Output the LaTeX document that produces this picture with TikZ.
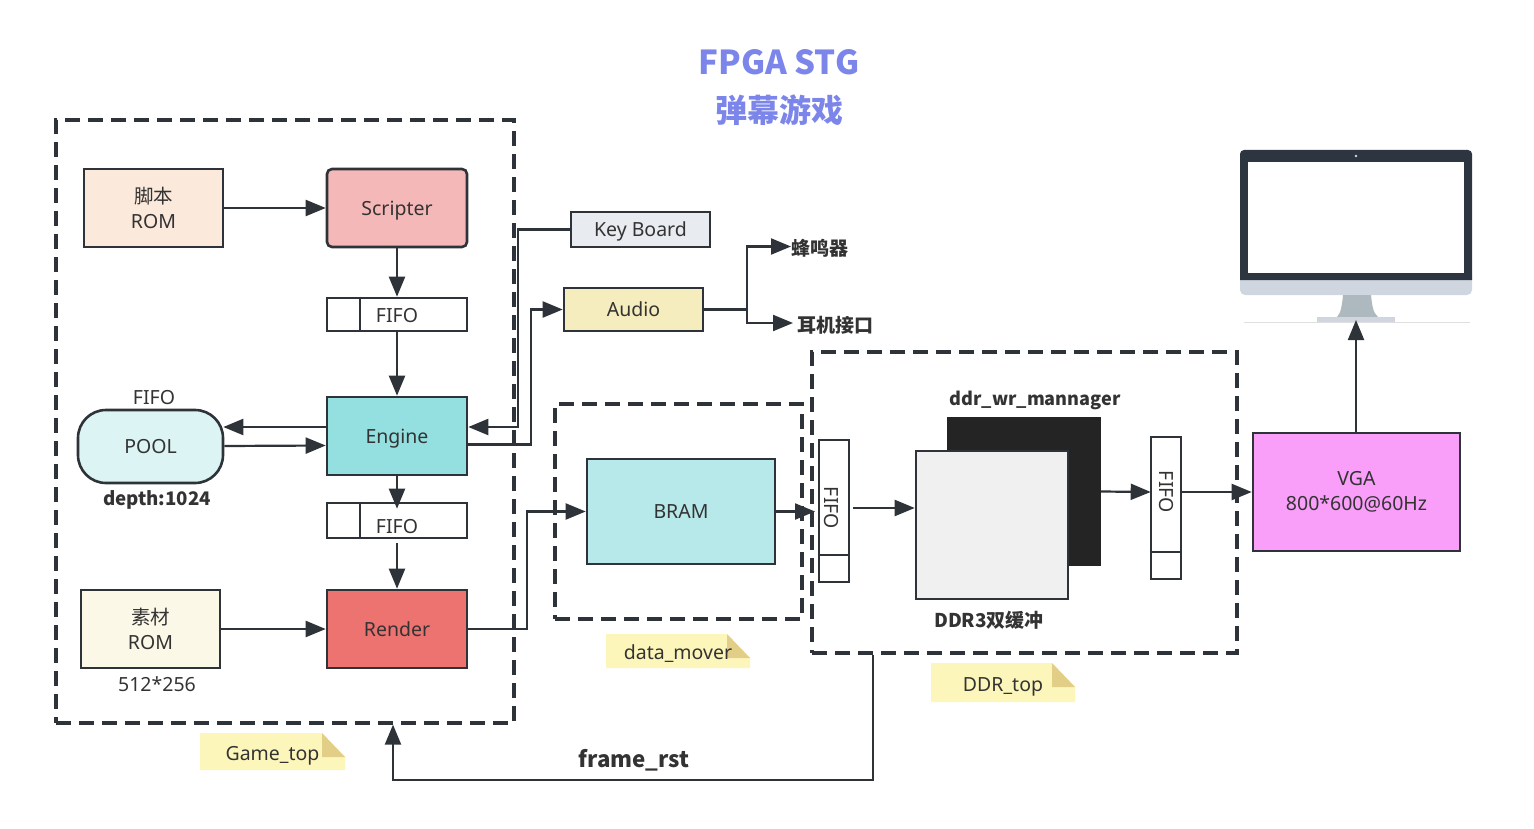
\documentclass[tikz,border=0pt]{standalone}
\usepackage{fontspec}
\usepackage{xcolor}
\setmainfont{Noto Sans}
\newfontfamily\cjk{Noto Sans CJK SC}
\usetikzlibrary{arrows.meta,positioning}
\definecolor{linegray}{HTML}{2D3338}
\definecolor{textgray}{HTML}{333333}
\definecolor{titleblue}{HTML}{7C86EA}
\definecolor{notefill}{HTML}{FDF6BA}
\definecolor{notefold}{HTML}{E2CE87}
\definecolor{scriptfill}{HTML}{FBE9DB}
\definecolor{scripterfill}{HTML}{F5B8B8}
\definecolor{enginefill}{HTML}{94E0E0}
\definecolor{poolfill}{HTML}{DCF4F4}
\definecolor{renderfill}{HTML}{EC7370}
\definecolor{assetfill}{HTML}{FCF8E8}
\definecolor{keyfill}{HTML}{E8EBEF}
\definecolor{audiofill}{HTML}{F5EDBD}
\definecolor{bramfill}{HTML}{B8E9EA}
\definecolor{vgafill}{HTML}{F99EF9}
\definecolor{monitordark}{HTML}{2D3540}
\definecolor{screengray}{HTML}{CFD6DF}
\definecolor{standgray}{HTML}{AEB8BF}
\tikzset{
	block/.style={draw=linegray, line width=2.6pt, inner sep=0pt, align=center, text=textgray,
		font=\fontsize{19.5}{25}\selectfont},
	single/.style={block, text height=14pt, text depth=0pt},
	dashframe/.style={draw=linegray, line width=3.2pt, dash pattern=on 15pt off 8pt, inner sep=0pt},
	conn/.style={draw=linegray, line width=2.2pt, -{Triangle[length=20pt,width=16pt]}},
	wire/.style={draw=linegray, line width=2.2pt},
	txt/.style={text=textgray, inner sep=0pt, text height=14pt, text depth=0pt, font=\fontsize{19.5}{25}\selectfont},
	boldtxt/.style={text=textgray, inner sep=0pt, text height=14pt, text depth=0pt, font=\fontsize{18.7}{24}\selectfont\bfseries\cjk},
}
\newcommand{\notebox}[6]{%
	\fill[notefill] (#1,#2) -- (#3-23,#2) -- (#3,#2+24) -- (#3,#4) -- (#1,#4) -- cycle;
	\fill[notefold] (#3-23,#2) -- (#3,#2+24) -- (#3-23,#2+24) -- cycle;
	\node[txt] (#5) at ({(#1+#3)/2},{(#2+#4)/2+1.5}) {#6};
}

\begin{document}
\begin{tikzpicture}[x=1pt, y=-1pt]
	\useasboundingbox (0,0) rectangle (1534,829);

	% title
	\node[text=titleblue, font=\fontsize{33}{38}\selectfont\bfseries\cjk] (titlea) at (779,62) {FPGA STG};
	\node[text=titleblue, font=\fontsize{32}{38}\selectfont\bfseries\cjk] (titleb) at (779,110) {弹幕游戏};

	% dashed frames
	\node[dashframe, minimum width=458pt, minimum height=603pt] (gametop) at (285,421.5) {};
	\node[dashframe, minimum width=247pt, minimum height=215pt] (datamover) at (678.5,511.5) {};
	\node[dashframe, minimum width=425pt, minimum height=301pt] (ddrtop) at (1024.5,502.5) {};

	\notebox{200}{733}{345}{770}{notegame}{Game\_top}
	\notebox{606}{634}{750}{668}{notedata}{data\_mover}
	\notebox{931}{663}{1075}{702}{noteddr}{DDR\_top}

	% game_top
	\node[block, fill=scriptfill, minimum width=139pt, minimum height=78pt] (script) at (153.5,208) {{\cjk 脚本}\\ROM};
	\node[single, fill=scripterfill, rounded corners=5pt, minimum width=140pt, minimum height=78pt] (scripter) at (397,208) {Scripter};
	\node[block, minimum width=140pt, minimum height=33pt] (fifoa) at (397,314.5) {};
	\node[single, fill=enginefill, minimum width=140pt, minimum height=78pt] (engine) at (397,436) {Engine};
	\node[single, fill=poolfill, rounded corners=28pt, minimum width=145pt, minimum height=73pt] (pool) at (150.5,446.5) {POOL};
	\node[block, minimum width=140pt, minimum height=35pt] (fifob) at (397,520.5) {};
	\node[single, fill=renderfill, minimum width=140pt, minimum height=78pt] (render) at (397,629) {Render};
	\node[block, fill=assetfill, minimum width=139pt, minimum height=78pt] (asset) at (150.5,629) {{\cjk 素材}\\ROM};

	\node[txt] (fifoatext) at (397,315) {FIFO};
	\node[txt] (fifobtext) at (397,526) {FIFO};
	\node[txt] (pooltop) at (154,397) {FIFO};
	\node[boldtxt] (pooldepth) at (157,498) {depth:1024};
	\node[txt] (assetsize) at (157,684) {512*256};
	\foreach \fifo in {fifoa,fifob}{
		\draw[wire] ([xshift=34pt]\fifo.north west) -- ([xshift=34pt]\fifo.south west);
	}

	% audio and keys
	\node[single, fill=keyfill, minimum width=139pt, minimum height=35pt] (keyboard) at (640.5,229.5) {Key Board};
	\node[single, fill=audiofill, minimum width=139pt, minimum height=43pt] (audio) at (633.5,309.5) {Audio};
	\node[boldtxt, anchor=west, font=\fontsize{19}{24}\selectfont\bfseries\cjk] (buzzer) at (791,248) {蜂鸣器};
	\node[boldtxt, anchor=west, font=\fontsize{19}{24}\selectfont\bfseries\cjk] (jack) at (797,325) {耳机接口};

	% data_mover
	\node[single, fill=bramfill, minimum width=188pt, minimum height=105pt] (bram) at (681,511.5) {BRAM};

	% ddr_top
	\node[fill=black!86, inner sep=0pt, minimum width=154pt, minimum height=149pt] (ddrback) at (1024,491.5) {};
	\node[block, fill=black!6, minimum width=152pt, minimum height=148pt] (ddrfront) at (992,525) {};
	\node[boldtxt, font=\fontsize{18.1}{24}\selectfont\bfseries\cjk] (ddrname) at (1035,398) {ddr\_wr\_mannager};
	\node[boldtxt, font=\fontsize{19}{24}\selectfont\bfseries\cjk] (ddrbuf) at (989,620) {DDR3双缓冲};
	\node[block, minimum width=30pt, minimum height=142pt] (fifoc) at (834,511) {};
	\node[block, minimum width=30pt, minimum height=142pt] (fifod) at (1166,508) {};
	\node[txt, rotate=-90] (fifoctext) at (831,508) {FIFO};
	\node[txt, rotate=-90] (fifodtext) at (1166,492) {FIFO};
	\foreach \fifo in {fifoc,fifod}{
		\draw[wire] ([yshift=28pt]\fifo.south west) -- ([yshift=28pt]\fifo.south east);
	}

	% vga and monitor
	\node[block, fill=vgafill, minimum width=207pt, minimum height=118pt] (vga) at (1356.5,492) {VGA\\800*600@60Hz};
	\fill[screengray, rounded corners=5pt] (1240,270) rectangle (1472,295);
	\fill[standgray] (1343,295) -- (1371,295) .. controls (1372,305) and (1373,313) .. (1378,317) -- (1337,317) .. controls (1341,313) and (1342,305) .. (1343,295) -- cycle;
	\fill[screengray] (1317,317) rectangle (1395,323);
	\draw[black!12, line width=0.8pt] (1244,322.5) -- (1470,322.5);
	\fill[monitordark, rounded corners=4pt] (1240,280) [sharp corners] -- (1240,280) [rounded corners=4pt] -- (1240,150) -- (1472,150) [sharp corners] -- (1472,280) -- cycle;
	\fill[white] (1248,162) rectangle (1464,273);
	\fill[black!15] (1356,156) circle (1.3pt);
	\coordinate (monitor) at (1356,320);

	% connectors
	\draw[conn] (script) -- (scripter);
	\draw[conn] (scripter) -- (fifoa);
	\draw[conn] (fifoa) -- (engine);
	\draw[conn] ([yshift=9pt]engine.west) -- ([xshift=-1pt,yshift=19.5pt]pool.east);
	\draw[conn] ([yshift=0.5pt]pool.east) -- ([yshift=-9.5pt]engine.west);
	\draw[conn] (engine.south) -- ([yshift=-7pt]fifob.north);
	\draw[conn] ([yshift=-4pt]fifob.south) -- (render.north);
	\draw[conn] (asset) -- (render);

	\coordinate (keybend) at (518,427);
	\coordinate (audiobend) at (531,444.5);
	\coordinate (splitaudio) at (747,309.5);
	\draw[conn] (keyboard.west) -| (keybend) -- ([yshift=9pt]engine.east);
	\draw[conn] ([yshift=-8.5pt]engine.east) -- (audiobend) |- (audio.west);
	\draw[wire] (audio.east) -- (splitaudio);
	\draw[conn] (splitaudio) |- ([yshift=1.5pt]buzzer.west);
	\draw[conn] (splitaudio) |- ([xshift=-4pt,yshift=2pt]jack.west);

	\coordinate (renderbend) at (527,629);
	\draw[conn] (render.east) -- (renderbend) |- (bram.west);
	\coordinate (fifocin) at (815,511.5);
	\draw[conn] (bram.east) -- (fifocin);
	\coordinate (fifocout) at (853,508);
	\draw[conn] (fifocout) -- (ddrfront.west |- fifocout);
	\draw[conn] (ddrback.east) -- ([xshift=1pt,yshift=16pt]fifod.west);
	\draw[conn] ([yshift=16pt]fifod.east) -- (vga.west);
	\draw[conn] (vga.north -| monitor) -- (monitor);

	\coordinate (rstright) at (873,780);
	\coordinate (rstleft) at (393,780);
	\draw[conn] ([xshift=-151.5pt]ddrtop.south) -- (rstright) -- (rstleft) -- ([xshift=108pt]gametop.south);
	\node[boldtxt, font=\fontsize{22.3}{28}\selectfont\bfseries\cjk] (rstlabel) at (634,760) {frame\_rst};
\end{tikzpicture}
\end{document}
